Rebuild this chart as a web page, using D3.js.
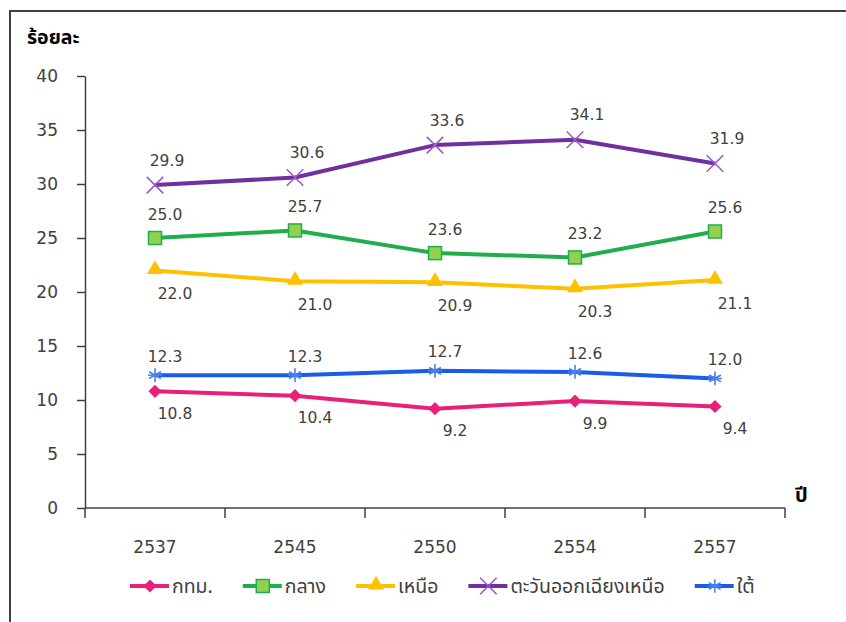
<!DOCTYPE html>
<html>
<head>
<meta charset="utf-8">
<script src="https://cdn.jsdelivr.net/npm/d3@7"></script>
<style>
  body { margin: 0; background: #fff; }
  svg { display: block; }
</style>
</head>
<body>
<svg id="chart" width="846" height="622"></svg>
<script>
// values
var years = ["2537", "2545", "2550", "2554", "2557"];
var yTicks = [0, 5, 10, 15, 20, 25, 30, 35, 40];
var seriesNames = ["กทม.", "กลาง", "เหนือ", "ตะวันออกเฉียงเหนือ", "ใต้"];
var bangkok = [10.8, 10.4, 9.2, 9.9, 9.4];
var central = [25.0, 25.7, 23.6, 23.2, 25.6];
var north = [22.0, 21.0, 20.9, 20.3, 21.1];
var northeast = [29.9, 30.6, 33.6, 34.1, 31.9];
var south = [12.3, 12.3, 12.7, 12.6, 12.0];

var thaiFont = "Tahoma, 'Leelawadee UI', 'Noto Sans Thai', 'Noto Sans', sans-serif";
var numFont = "'DejaVu Sans', Verdana, sans-serif";
var textColor = "#404040";

// styles per series (line colour, marker kind, label offset)
var styles = [
  { color: "#e8207a", marker: "diamond", labelDx: 20, labelDy: 22 },
  { color: "#1fae4b", marker: "square", fill: "#92d050", labelDx: 10, labelDy: -24 },
  { color: "#ffc000", marker: "triangle", labelDx: 20, labelDy: 23 },
  { color: "#7030a0", marker: "cross", stroke: "#9b5cc9", labelDx: 12, labelDy: -25 },
  { color: "#1a5ce6", marker: "star", stroke: "#4a80ec", labelDx: 10, labelDy: -19 }
];
var allValues = [bangkok, central, north, northeast, south];

var svg = d3.select("#chart");

// outer frame (right and bottom edges fall outside the picture)
svg.append("rect")
  .attr("x", 10).attr("y", 11)
  .attr("width", 900).attr("height", 700)
  .attr("fill", "none")
  .attr("stroke", "#404040")
  .attr("stroke-width", 2);

var x = d3.scaleBand().domain(years).range([85, 785]).padding(0);
var y = d3.scaleLinear().domain([0, 40]).range([508, 76]);

// y axis
var yAxis = svg.append("g")
  .attr("transform", "translate(85,0)")
  .call(d3.axisLeft(y).tickValues(yTicks).tickSize(8).tickSizeOuter(0).tickPadding(19));
yAxis.select(".domain").attr("stroke", textColor).attr("stroke-width", 1.5);
yAxis.selectAll(".tick line").attr("stroke", textColor).attr("stroke-width", 1.5);
yAxis.selectAll(".tick text")
  .attr("font-family", numFont).attr("font-size", 17).attr("fill", textColor);

// x axis, ticks sit between the categories
var xAxisG = svg.append("g").attr("transform", "translate(0,508)");
xAxisG.append("line")
  .attr("x1", 85).attr("x2", 785)
  .attr("stroke", textColor).attr("stroke-width", 1.5);
var bounds = years.map(function(d){ return x(d); }).concat([x(years[years.length - 1]) + x.bandwidth()]);
xAxisG.selectAll(".xtick").data(bounds).enter().append("line")
  .attr("x1", function(d){ return d; }).attr("x2", function(d){ return d; })
  .attr("y1", 0).attr("y2", 10)
  .attr("stroke", textColor).attr("stroke-width", 1.5);
xAxisG.selectAll(".xlabel").data(years).enter().append("text")
  .attr("x", function(d){ return x(d) + x.bandwidth() / 2; })
  .attr("y", 45)
  .attr("text-anchor", "middle")
  .attr("font-family", numFont).attr("font-size", 17).attr("fill", textColor)
  .text(function(d){ return d; });

// axis titles
svg.append("text")
  .attr("x", 27).attr("y", 44)
  .attr("font-family", thaiFont).attr("font-size", 19.5).attr("font-weight", "bold")
  .attr("fill", "#000")
  .text("ร้อยละ");
svg.append("text")
  .attr("x", 795).attr("y", 502)
  .attr("font-family", thaiFont).attr("font-size", 20).attr("font-weight", "bold")
  .attr("fill", "#000")
  .text("ปี");

function drawMarker(g, st, cx, cy) {
  if (st.marker === "diamond") {
    g.append("path")
      .attr("d", d3.symbol().type(d3.symbolDiamond2).size(110)())
      .attr("transform", "translate(" + cx + "," + cy + ")")
      .attr("fill", st.color);
  } else if (st.marker === "square") {
    g.append("rect")
      .attr("x", cx - 6.5).attr("y", cy - 6.5)
      .attr("width", 13).attr("height", 13)
      .attr("fill", st.fill).attr("stroke", st.color).attr("stroke-width", 1.5);
  } else if (st.marker === "triangle") {
    g.append("path")
      .attr("d", d3.symbol().type(d3.symbolTriangle).size(110)())
      .attr("transform", "translate(" + cx + "," + (cy - 1) + ")")
      .attr("fill", st.color);
  } else if (st.marker === "cross") {
    g.append("path")
      .attr("d", d3.symbol().type(d3.symbolX).size(180)())
      .attr("transform", "translate(" + cx + "," + cy + ")")
      .attr("fill", "none").attr("stroke", st.stroke).attr("stroke-width", 1.6);
  } else if (st.marker === "star") {
    g.append("path")
      .attr("d", d3.symbol().type(d3.symbolAsterisk).size(130)())
      .attr("transform", "translate(" + cx + "," + cy + ")")
      .attr("fill", "none").attr("stroke", st.stroke).attr("stroke-width", 1.6);
    g.append("line")
      .attr("x1", cx - 7).attr("x2", cx + 7).attr("y1", cy).attr("y2", cy)
      .attr("stroke", st.stroke).attr("stroke-width", 1.6);
  }
}

var line = d3.line()
  .x(function(d, i){ return x(years[i]) + x.bandwidth() / 2; })
  .y(function(d){ return y(d); });

allValues.forEach(function(vals, si){
  var st = styles[si];
  var g = svg.append("g").attr("class", "series");
  g.append("path")
    .datum(vals)
    .attr("d", line)
    .attr("fill", "none")
    .attr("stroke", st.color)
    .attr("stroke-width", 4)
    .attr("stroke-linejoin", "round");
  vals.forEach(function(v, i){
    drawMarker(g, st, x(years[i]) + x.bandwidth() / 2, y(v));
  });
  g.selectAll(".lbl").data(vals).enter().append("text")
    .attr("x", function(d, i){ return x(years[i]) + x.bandwidth() / 2 + st.labelDx; })
    .attr("y", function(d){ return y(d) + st.labelDy; })
    .attr("dy", "0.36em")
    .attr("text-anchor", "middle")
    .attr("font-family", numFont).attr("font-size", 15.5).attr("fill", textColor)
    .text(function(d){ return d.toFixed(1); });
});

// legend
var legend = svg.append("g").attr("class", "legend").attr("transform", "translate(130,586)");
var lx = 0;
seriesNames.forEach(function(name, si){
  var st = styles[si];
  var item = legend.append("g").attr("transform", "translate(" + lx + ",0)");
  item.append("line")
    .attr("x1", 0).attr("x2", 39).attr("y1", 0).attr("y2", 0)
    .attr("stroke", st.color).attr("stroke-width", 4);
  drawMarker(item, st, 20, 0);
  var t = item.append("text")
    .attr("x", 42).attr("y", 0).attr("dy", "0.36em")
    .attr("font-family", thaiFont).attr("font-size", 19.5).attr("fill", textColor)
    .text(name);
  lx += 42 + t.node().getComputedTextLength() + 30;
});
</script>
</body>
</html>
